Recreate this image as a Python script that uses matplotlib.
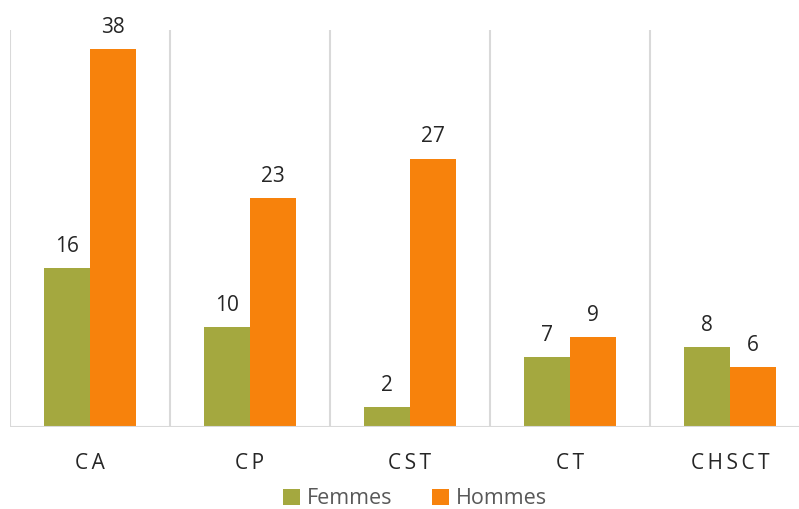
import matplotlib.pyplot as plt
import numpy as np

plt.rcParams['font.family'] = ['Open Sans', 'DejaVu Sans']

categories = ['CA', 'CP', 'CST', 'CT', 'CHSCT']
femmes = [16, 10, 2, 7, 8]
hommes = [38, 23, 27, 9, 6]

green = '#A4A83F'
orange = '#F7820C'
grid = '#D9D9D9'

fig = plt.figure(figsize=(7.99, 5.09), dpi=100)
ax = fig.add_axes([10/799, 1 - 426.5/509, 800/799, 397/509])

x = np.arange(len(categories))
w = 0.2875
b1 = ax.bar(x - w/2, femmes, w, color=green, label='Femmes')
b2 = ax.bar(x + w/2, hommes, w, color=orange, label='Hommes')

for bars in (b1, b2):
    for rect in bars:
        h = rect.get_height()
        ax.annotate(f'{h:g}', (rect.get_x() + rect.get_width()/2, h),
                    xytext=(0, 8), textcoords='offset points',
                    ha='center', va='bottom', fontsize=15, color='#262626')

ax.set_xlim(-0.5, len(categories) - 0.5)
ax.set_ylim(0, 40)

for sep in np.arange(len(categories) + 1) - 0.5:
    ax.axvline(sep, color=grid, lw=1.5, zorder=0)

for s in ax.spines.values():
    s.set_visible(False)
ax.axhline(0, color=grid, lw=1.5, zorder=3)

ax.set_yticks([])
ax.set_xticks(x)
ax.set_xticklabels(['\u2009'.join(c) for c in categories], fontsize=15, color='#262626')
ax.tick_params(axis='x', length=0, pad=19)

fig.legend(handles=[b1, b2], loc='center', bbox_to_anchor=(415/799, 1 - 499/509),
           ncol=2, frameon=False, fontsize=15.5, handlelength=0.8, handleheight=0.8,
           handletextpad=0.35, columnspacing=1.8, labelcolor='#595959')

fig.savefig('out.png', dpi=100)
